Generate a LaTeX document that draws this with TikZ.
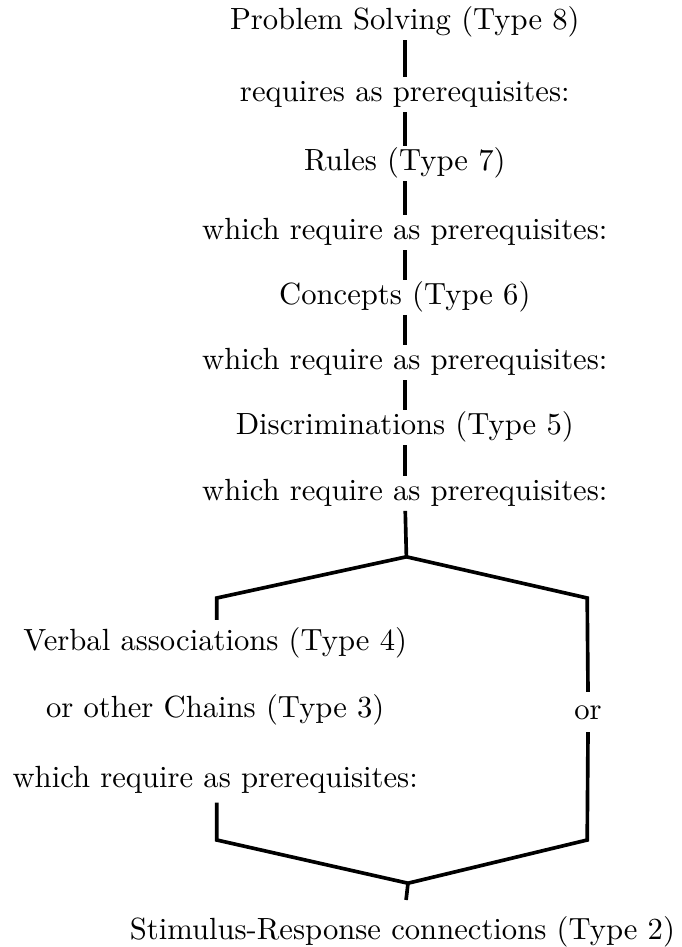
\documentclass[tikz,border=0pt]{standalone}
\usepackage{tikz}
\usetikzlibrary{calc}

\tikzset{
  stage/.style={inner sep=0pt, text height=8pt, text depth=2.5pt, font=\fontsize{10.9}{13}\selectfont},
  link/.style={line width=1.3pt, shorten <=1pt, shorten >=0.5pt},
  frame/.style={line width=1.3pt, line join=miter},
}

\begin{document}
\begin{tikzpicture}
\useasboundingbox (0,0) rectangle (8.5125,-11.8375);
% main chain
\node[stage] (ps) at (5.06,-0.275) {Problem Solving (Type 8)};
\node[stage] (req) at (5.06,-1.175) {requires as prerequisites:};
\node[stage] (rules) at (5.06,-2.04) {Rules (Type 7)};
\node[stage] (wr1) at (5.06,-2.9) {which require as prerequisites:};
\node[stage] (conc) at (5.06,-3.71) {Concepts (Type 6)};
\node[stage] (wr2) at (5.06,-4.525) {which require as prerequisites:};
\node[stage] (disc) at (5.06,-5.34) {Discriminations (Type 5)};
\node[stage] (wr3) at (5.06,-6.16) {which require as prerequisites:};
\draw[link] (ps) -- (req);
\draw[link] (req) -- (rules);
\draw[link] (rules) -- (wr1);
\draw[link] (wr1) -- (conc);
\draw[link] (conc) -- (wr2);
\draw[link] (wr2) -- (disc);
\draw[link] (disc) -- (wr3);
% branches
\coordinate (hextop) at (5.08,-6.96);
\coordinate (hexl) at (2.71,-7.475);
\coordinate (hexr) at (7.34,-7.475);
\coordinate (hexbl) at (2.71,-10.5);
\coordinate (hexbr) at (7.34,-10.5);
\coordinate (hexbot) at (5.1,-11.04);
\node[stage] (verbal) at (2.69,-8.04) {Verbal associations (Type 4)};
\node[stage] (chains) at (2.69,-8.875) {or other Chains (Type 3)};
\node[stage] (wrl) at (2.69,-9.75) {which require as prerequisites:};
\node[stage] (alt) at (7.35,-8.9) {or};
\node[stage] (sr) at (5.03,-11.65) {Stimulus-Response connections (Type 2)};
\draw[link, shorten >=0pt] (wr3) -- (hextop);
\draw[frame] ([yshift=0.1cm]verbal.north -| hexl) -- (hexl) -- (hextop) -- (hexr) -- ([yshift=0.06cm]alt.north);
\draw[frame] ([yshift=-0.06cm]alt.south) -- (hexbr) -- (hexbot) -- (hexbl) -- ([yshift=-0.09cm]wrl.south -| hexl);
\draw[link, shorten <=0pt, shorten >=0.21cm] (hexbot) -- (sr);
\end{tikzpicture}
\end{document}
